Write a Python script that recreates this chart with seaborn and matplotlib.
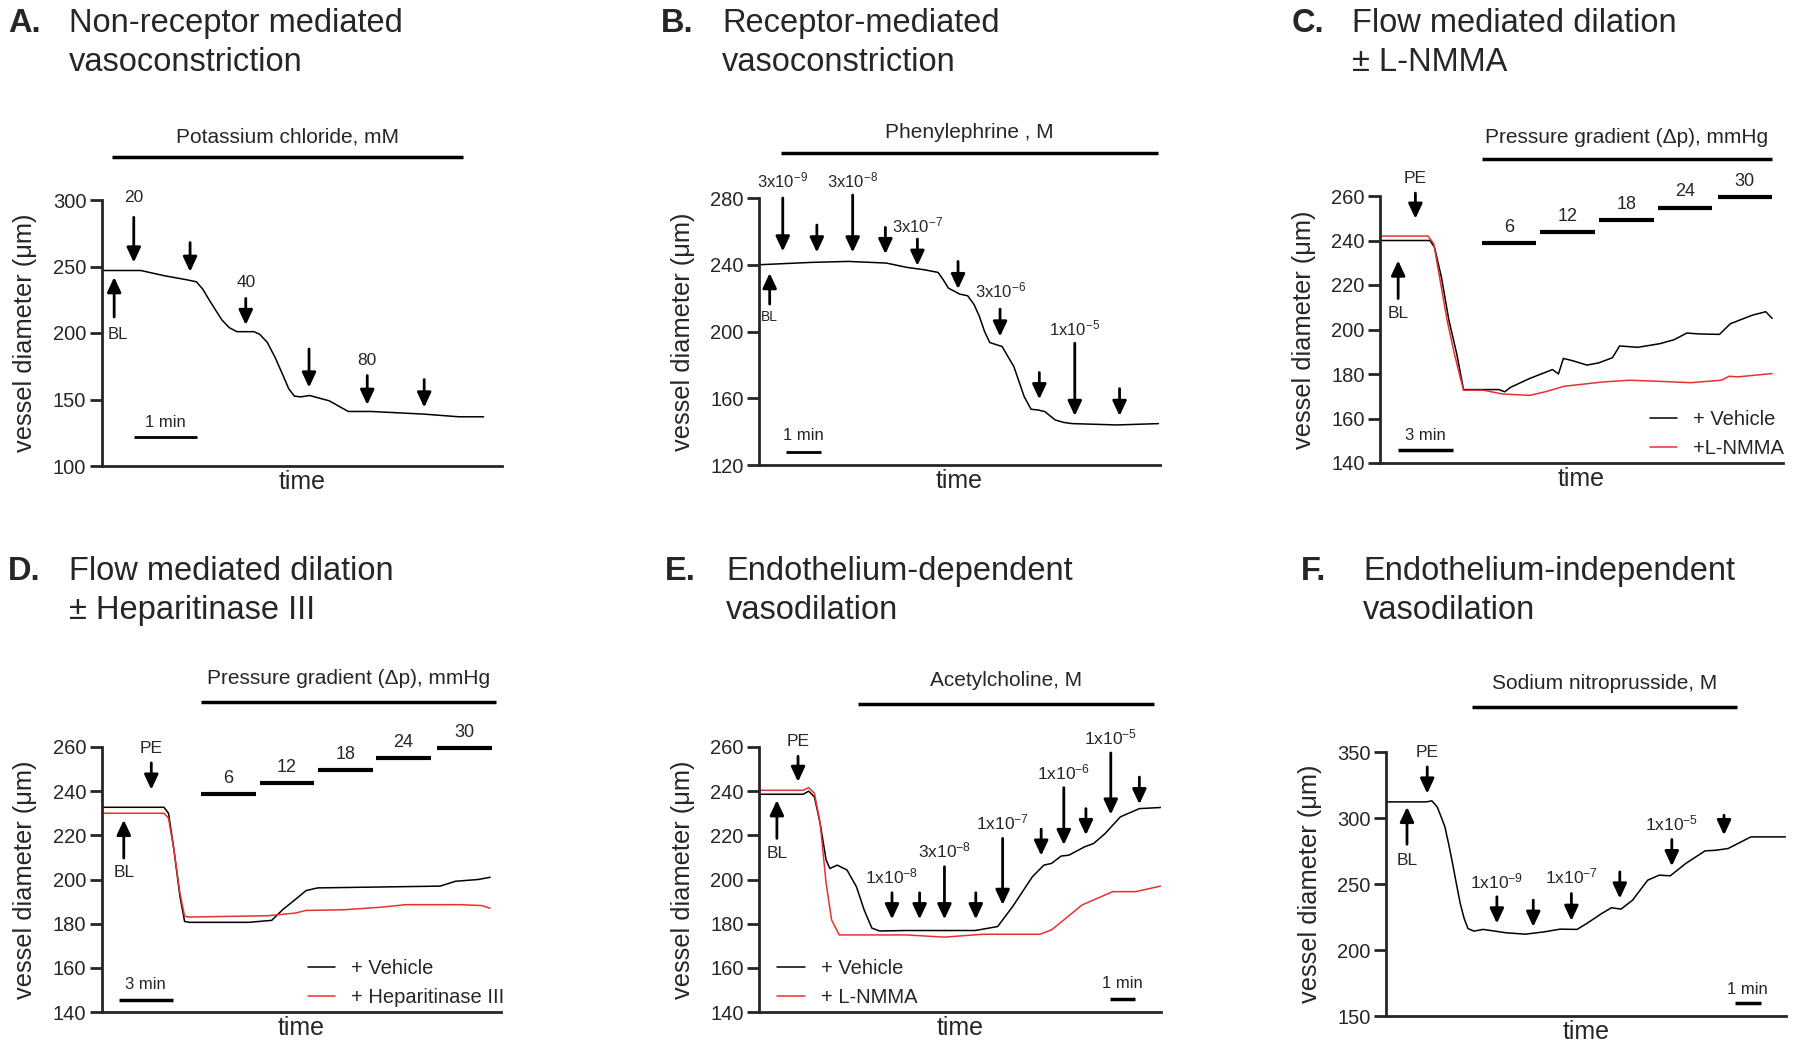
import pandas as pd
import seaborn as sns
import matplotlib.pyplot as plt

# ---- panel A: KCl ----
a_time = [0, 0.62, 1.0, 1.35, 1.5, 1.6, 1.7, 1.9, 2.02, 2.14, 2.41, 2.5, 2.62, 2.75, 2.87, 2.96, 3.05, 3.15,
          3.29, 3.6, 3.75, 3.9, 4.26, 5.1, 5.65, 6.04]
a_diam = [247, 247, 243, 240, 238.5, 233, 225, 210, 204, 201, 201, 199, 193, 181, 168, 158, 152.5, 152,
          153, 149, 145, 141, 141, 139, 137, 137]
a_arrows = [(0.51, 287, 253, '20', 302), (1.4, 268, 246, '', 0), (2.28, 226, 206, '40', 238),
            (3.28, 188, 159, '', 0), (4.2, 168, 146, '80', 179), (5.1, 165, 144, '', 0)]

# ---- panel B: phenylephrine ----
b_time = [0, 1.5, 2.6, 3.7, 4.3, 4.8, 5.2, 5.35, 5.5, 5.83, 6.06, 6.25, 6.4, 6.55, 6.7, 7.06, 7.2, 7.4, 7.55,
          7.7, 7.9, 8.1, 8.3, 8.6, 8.85, 9.1, 10.4, 11.6]
b_diam = [240, 241.4, 242, 241, 238.4, 237, 235.4, 231, 226, 222.4, 221.4, 216, 209, 200, 193.4, 191, 186, 179, 170,
          161, 153.4, 153, 152, 147, 145.5, 144.8, 144, 144.8]
b_arrows = [(0.69, 280, 248, '3x10$^{-9}$', 290.4), (1.68, 263.8, 247.4, '', 0),
            (2.72, 281.8, 247.4, '3x10$^{-8}$', 290.4), (3.67, 262.4, 246.4, '', 0),
            (4.6, 255.4, 239.4, '3x10$^{-7}$', 263.4), (5.78, 242, 225.4, '', 0),
            (7.0, 213.4, 197, '3x10$^{-6}$', 224.4), (8.14, 175.4, 159.4, '', 0),
            (9.17, 193, 149.4, '1x10$^{-5}$', 201.8), (10.47, 165.8, 149.4, '', 0)]

# ---- panel C: flow mediated dilation +/- L-NMMA ----
c_time_veh = [0.05, 2.75, 3.0, 3.38, 3.8, 4.23, 4.6, 6.55, 6.87, 7.19, 8.25, 9.5, 9.83, 10.1, 10.6, 11.4,
              12.05, 12.8, 13.2, 14.2, 15.4, 16.2, 16.9, 17.6, 18.7, 19.3, 20.5, 21.25, 21.6]
c_diam_veh = [240, 240, 237, 223.6, 204, 189, 173, 173, 172, 174, 178, 182, 180, 187, 186, 184,
              185, 187.3, 192.6, 192, 193.6, 195.4, 198.4, 198, 197.8, 202.6, 206.4, 208, 205]
c_time_nmma = [0.05, 2.64, 2.96, 3.28, 3.7, 4.1, 4.6, 5.7, 6.77, 8.25, 9.1, 10.15, 12.26, 13.74, 15.4,
               17.1, 18.8, 19.24, 19.7, 21.6]
c_diam_nmma = [242, 242, 238.6, 223.6, 204, 189, 172.7, 172.7, 171, 170.4, 172, 174.5, 176.4, 177.2, 176.7,
               176.1, 177.2, 179, 178.7, 180.2]
c_step_start = [5.6, 8.84, 12.05, 15.3, 18.6]
c_step_end = [8.6, 11.84, 15.07, 18.3, 21.6]
c_step_level = [238.9, 243.8, 249.0, 254.8, 259.6]

# ---- panel D: flow mediated dilation +/- heparitinase ----
d_time_veh = [0.06, 3.45, 3.7, 4.0, 4.33, 4.59, 4.86, 8.14, 9.4, 10.0, 10.8, 11.3, 11.95, 14.5, 18.7, 19.55, 20.8, 21.46]
d_diam_veh = [232.7, 232.7, 230, 213.5, 192.4, 181, 180.6, 180.6, 181.5, 186.3, 191.6, 195, 196.2, 196.5, 197, 199.2, 200, 201]
d_time_hep = [0.06, 3.45, 3.7, 4.0, 4.33, 4.59, 4.86, 9.2, 10.7, 11.3, 13.4, 15.5, 16.8, 19.8, 21.0, 21.46]
d_diam_hep = [230, 230, 227.8, 213.5, 193.9, 183.3, 183, 183.6, 184.8, 186, 186.3, 187.5, 188.6, 188.6, 188.2, 187]
d_step_start = [5.5, 8.73, 11.94, 15.18, 18.54]
d_step_end = [8.52, 11.73, 14.97, 18.18, 21.56]
d_step_level = [238.9, 243.7, 249.4, 254.9, 259.5]

step_labels = ['6', '12', '18', '24', '30']

# ---- panel E: acetylcholine ----
e_time_veh = [0.05, 1.77, 2.0, 2.23, 2.46, 2.7, 2.85, 3.15, 3.54, 3.92, 4.23, 4.54, 4.85, 5.92, 8.7, 9.6,
              10.2, 11.0, 11.46, 11.77, 12.15, 12.46, 13.1, 13.46, 13.92, 14.54, 15.3, 16.15]
e_diam_veh = [238.6, 238.6, 240, 237.4, 225.4, 208.8, 205, 206.5, 204.3, 196.7, 186.2, 178, 176.7, 176.9, 176.9, 178.7,
              187.7, 201.3, 206.5, 207.3, 210.6, 211, 214.8, 216.3, 220.8, 228.4, 232.1, 232.6]
e_time_nmma = [0.05, 1.77, 2.0, 2.23, 2.46, 2.7, 2.92, 3.23, 4.38, 5.92, 7.46, 9.0, 11.3, 11.77, 13.0, 14.23, 15.15, 16.15]
e_diam_nmma = [240.4, 240.4, 241.6, 239, 225.4, 198.3, 181.7, 174.9, 174.9, 174.9, 173.9, 175.2, 175.2, 177.2, 188.5,
               194.5, 194.5, 197]
e_arrows = [(5.35, 194, 182, '1x10$^{-8}$', 201.3), (6.46, 194, 182, '', 0),
            (7.46, 205.8, 182, '3x10$^{-8}$', 213), (8.72, 194, 182, '', 0),
            (9.8, 218.6, 188.5, '1x10$^{-7}$', 225.7), (11.35, 222.8, 210.8, '', 0),
            (12.26, 241.6, 215.6, '1x10$^{-6}$', 248.7), (13.15, 232.1, 220.1, '', 0),
            (14.15, 257.3, 229.4, '1x10$^{-5}$', 264.5), (15.3, 246.4, 234.1, '', 0)]

# ---- panel F: sodium nitroprusside ----
f_time = [0.05, 1.57, 1.79, 2.0, 2.15, 2.3, 2.45, 2.6, 2.75, 2.9, 3.05, 3.2, 3.43, 3.8, 4.7, 5.45, 6.2, 6.8, 7.46,
          7.84, 8.43, 8.8, 9.18, 9.63, 10.22, 10.67, 11.1, 11.7, 12.46, 12.9, 13.36, 14.25, 15.6]
f_diam = [312.2, 312.2, 313, 308.4, 301, 293.3, 280, 265.5, 250, 235.2, 224, 216.3, 214.3, 215.6, 213, 212, 213.8,
          215.8, 215.6, 220.1, 227.7, 232, 231, 237.8, 252.9, 256.7, 256.2, 265.5, 275.1, 275.6, 276.9, 285.7, 285.7]
f_arrows = [(4.33, 240.3, 220.1, '1x10$^{-9}$', 252.1), (5.75, 237.8, 217.6, '', 0),
            (7.24, 242.8, 222.1, '1x10$^{-7}$', 255.4), (9.13, 259.2, 239, '', 0),
            (11.16, 283.7, 263.5, '1x10$^{-5}$', 295.8), (13.2, 302.1, 287, '', 0)]

RED = '#e8312e'

sns.set_style('ticks')
plt.rcParams['font.family'] = ['Liberation Sans', 'DejaVu Sans']
plt.rcParams['mathtext.default'] = 'regular'

W, H = 1800, 1056
fig = plt.figure(figsize=(18, 10.56), dpi=100)


def px_axes(x0, y0, x1, y1):
    return fig.add_axes([x0 / W, 1 - y1 / H, (x1 - x0) / W, (y1 - y0) / H])


def style(ax, ylim, yticks, xmax):
    ax.set_xlim(0, xmax)
    ax.set_ylim(*ylim)
    ax.set_yticks(yticks)
    ax.set_xticks([])
    sns.despine(ax=ax)
    for s in ['left', 'bottom']:
        ax.spines[s].set_linewidth(2)
    ax.tick_params(axis='y', length=9, width=2, labelsize=14.5, pad=2)
    ax.set_ylabel('vessel diameter (μm)', fontsize=18.3, labelpad=11)
    ax.set_xlabel('time', fontsize=18, labelpad=3)


def arrow(ax, t, y_from, y_to):
    ax.annotate('', xy=(t, y_to), xytext=(t, y_from), annotation_clip=False,
                arrowprops=dict(arrowstyle='-|>,head_length=0.45,head_width=0.21', lw=2,
                                color='black', shrinkA=0, shrinkB=0, mutation_scale=20))


def label(ax, t, y, s, fs=12.5):
    ax.text(t, y, s, ha='center', va='center', fontsize=fs)


def bar(ax, t0, t1, y, text=None, ty=None, lw=2.5, fs=15):
    ax.plot([t0, t1], [y, y], color='black', lw=lw, clip_on=False, solid_capstyle='butt')
    if text:
        ax.text((t0 + t1) / 2, ty, text, ha='center', va='center', fontsize=fs)


def trace(ax, t, d, color='black', name=None):
    df = pd.DataFrame({'time': t, 'diameter': d})
    sns.lineplot(data=df, x='time', y='diameter', ax=ax, color=color, lw=1.1,
                 sort=False, estimator=None, label=name)


def legend(ax, x, y):
    ax.legend(loc='lower left', bbox_to_anchor=(x, y), frameon=False, fontsize=14.5,
              handlelength=1.35, handletextpad=0.8, labelspacing=0.5, borderpad=0, borderaxespad=0)


def title(letter, lines, x_letter, x_text, y0):
    fig.text(x_letter / W, 1 - y0 / H, letter, fontsize=23.5, fontweight='bold', va='baseline')
    for i, ln in enumerate(lines):
        fig.text(x_text / W, 1 - (y0 + 39 * i) / H, ln, fontsize=23.5, va='baseline')


# A
ax = px_axes(101.5, 200, 502, 466)
trace(ax, a_time, a_diam)
style(ax, (100, 300), [100, 150, 200, 250, 300], 6.33)
arrow(ax, 0.2, 212, 242)
label(ax, 0.26, 199, 'BL', 12)
for t, y0, y1, s, ly in a_arrows:
    arrow(ax, t, y0, y1)
    if s:
        label(ax, t, ly, s)
bar(ax, 0.16, 5.71, 332.5, 'Potassium chloride, mM', 347)
bar(ax, 0.51, 1.51, 121.5, '1 min', 132.5, lw=2, fs=12)
title('A.', ['Non-receptor mediated', 'vasoconstriction'], 8, 69, 32)

# B
ax = px_axes(759, 198, 1159.5, 465)
trace(ax, b_time, b_diam)
style(ax, (120, 280), [120, 160, 200, 240, 280], 11.63)
arrow(ax, 0.31, 216.4, 235)
label(ax, 0.31, 208.4, 'BL', 10)
for t, y0, y1, s, ly in b_arrows:
    arrow(ax, t, y0, y1)
    if s:
        label(ax, t, ly, s, 12)
bar(ax, 0.63, 11.6, 307, 'Phenylephrine , M', 319.4)
bar(ax, 0.78, 1.8, 128, '1 min', 137.4, lw=2, fs=12)
title('B.', ['Receptor-mediated', 'vasoconstriction'], 661, 722, 32)

# C
ax = px_axes(1380, 196, 1783, 463)
trace(ax, c_time_veh, c_diam_veh, 'black', '+ Vehicle')
trace(ax, c_time_nmma, c_diam_nmma, RED, '+L-NMMA')
style(ax, (140, 260), list(range(140, 261, 20)), 22.2)
arrow(ax, 1.95, 261.3, 249.8)
label(ax, 1.95, 267.8, 'PE')
arrow(ax, 1.0, 213.9, 231)
label(ax, 1.0, 207, 'BL')
for t0, t1, lv, s in zip(c_step_start, c_step_end, c_step_level, step_labels):
    bar(ax, t0, t1, lv, s, lv + 7, lw=3, fs=13)
bar(ax, 5.6, 21.6, 276.8, 'Pressure gradient (Δp), mmHg', 286.2)
bar(ax, 1.0, 4.0, 145.7, '3 min', 152.4, lw=2.5, fs=12)
legend(ax, 0.67, 0.02)
title('C.', ['Flow mediated dilation', '± L-NMMA'], 1292, 1352, 32)

# D
ax = px_axes(101.5, 747, 501.5, 1012)
trace(ax, d_time_veh, d_diam_veh, 'black', '+ Vehicle')
trace(ax, d_time_hep, d_diam_hep, RED, '+ Heparitinase III')
style(ax, (140, 260), list(range(140, 261, 20)), 22.09)
arrow(ax, 2.75, 252.8, 240.7)
label(ax, 2.75, 259.2, 'PE')
arrow(ax, 1.23, 209.7, 227)
label(ax, 1.23, 203, 'BL')
for t0, t1, lv, s in zip(d_step_start, d_step_end, d_step_level, step_labels):
    bar(ax, t0, t1, lv, s, lv + 7, lw=3, fs=13)
bar(ax, 5.5, 21.8, 280.2, 'Pressure gradient (Δp), mmHg', 291.2)
bar(ax, 0.95, 3.95, 145.6, '3 min', 152.4, lw=2.5, fs=12)
legend(ax, 0.516, 0.02)
title('D.', ['Flow mediated dilation', '± Heparitinase III'], 8, 69, 580)

# E
ax = px_axes(759, 747, 1160.5, 1012)
trace(ax, e_time_veh, e_diam_veh, 'black', '+ Vehicle')
trace(ax, e_time_nmma, e_diam_nmma, RED, '+ L-NMMA')
style(ax, (140, 260), list(range(140, 261, 20)), 16.15)
arrow(ax, 0.72, 218.6, 235.9)
label(ax, 0.72, 211.8, 'BL')
arrow(ax, 1.57, 255.8, 244.2)
label(ax, 1.57, 262.7, 'PE')
for t, y0, y1, s, ly in e_arrows:
    arrow(ax, t, y0, y1)
    if s:
        label(ax, t, ly, s)
bar(ax, 4.0, 15.88, 279.6, 'Acetylcholine, M', 290)
bar(ax, 14.12, 15.12, 145.8, '1 min', 152.8, lw=2.5, fs=12)
legend(ax, 0.046, 0.02)
title('E.', ['Endothelium-dependent', 'vasodilation'], 665, 726, 580)

# F
ax = px_axes(1386, 752, 1785.5, 1016)
trace(ax, f_time, f_diam)
style(ax, (150, 350), [150, 200, 250, 300, 350], 15.6)
arrow(ax, 0.82, 280.1, 308.4)
label(ax, 0.82, 267.5, 'BL')
arrow(ax, 1.61, 338.7, 318.5)
label(ax, 1.61, 349.5, 'PE')
for t, y0, y1, s, ly in f_arrows:
    arrow(ax, t, y0, y1)
    if s:
        label(ax, t, ly, s)
bar(ax, 3.36, 13.69, 384, 'Sodium nitroprusside, M', 401.7)
bar(ax, 13.63, 14.63, 159.6, '1 min', 170.2, lw=2.5, fs=12)
title('F.', ['Endothelium-independent', 'vasodilation'], 1301, 1363, 580)

fig.savefig('out.png', dpi=100)
